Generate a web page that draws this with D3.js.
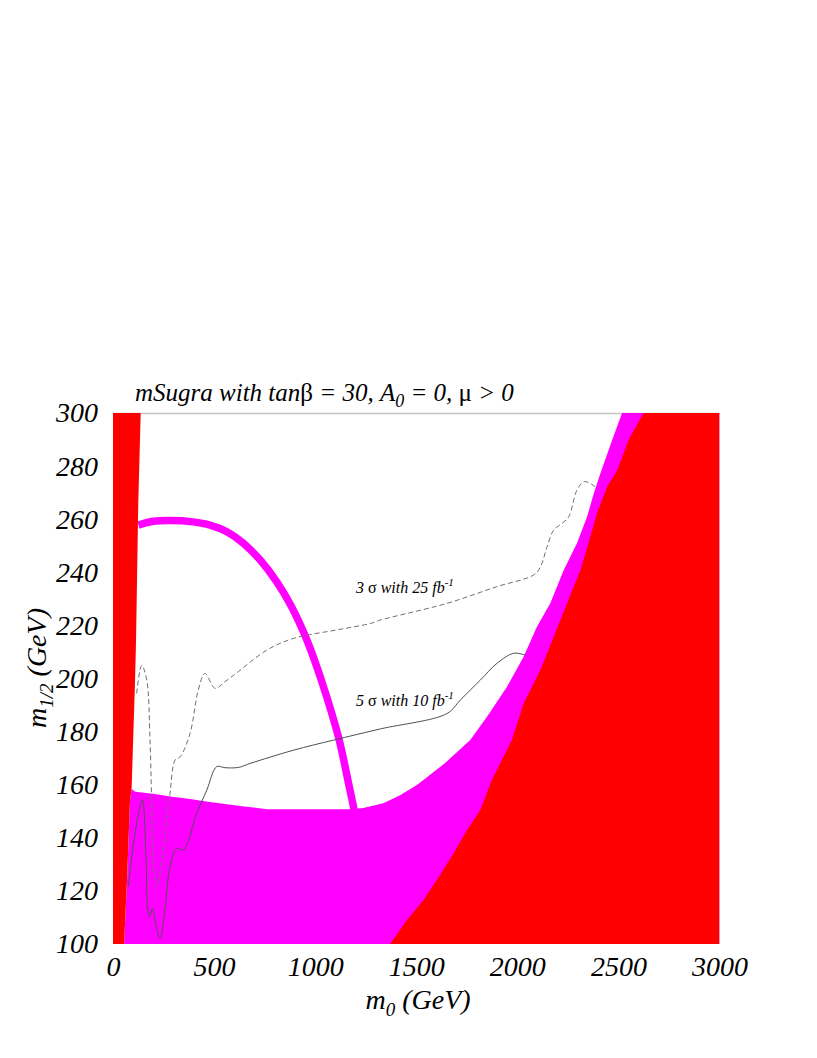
<!DOCTYPE html>
<html><head><meta charset="utf-8">
<script src="https://cdn.jsdelivr.net/npm/d3@7"></script>
<style>
body{margin:0;background:#fff}
text{font-family:"Liberation Serif","Times New Roman",serif;}
</style>
</head><body>
<svg id="c" width="817" height="1058"></svg>
<script>
// ---- data (m0 [GeV], m1/2 [GeV]) ----
const xTickValues = [0, 500, 1000, 1500, 2000, 2500, 3000];
const yTickValues = [100, 120, 140, 160, 180, 200, 220, 240, 260, 280, 300];

// left excluded (red) strip, right boundary, bottom to top
const leftRedEdge = [[55,100],[70,125],[84,154],[92,158.4],[109,199],[114,214.5],[125,266],[137,300]];

// top boundary of the magenta region (bottom plateau + right band), left to right
const magentaTop = [[92,158.4],[110,157.3],[208,156.5],[291,155.5],[381,154.6],[470,153.6],[554,152.7],
  [650,151.8],[761,150.8],[1173,150.8],[1238,151.2],[1337,153],[1420,156],[1505,160],[1640,168],
  [1767,176.8],[1850,185.6],[1949,196.9],[2031,208.2],[2097,219.5],[2163,228.3],[2229,240.8],
  [2295,250.9],[2345,260.9],[2378,269.7],[2411,277.3],[2470,290],[2518,300]];

// left boundary of the right red region, top to bottom
const redEdge = [[2624,300],[2550,289.8],[2495,278.5],[2444,272.2],[2394,262.2],[2361,253.4],[2312,240.8],
  [2246,228.3],[2180,215.7],[2114,203.2],[2031,190.6],[1973,176.8],[1874,161.8],[1817,150.5],
  [1751,142.9],[1685,134.2],[1602,124.1],[1536,116.6],[1454,109],[1371,100]];

// thin magenta arc
const arcBand = [[126,257.8],[200,259.2],[282,259.5],[396,259],[480,257.8],[563,255.3],[644,251],[728,244.6],
  [810,236.4],[880,227.5],[959,214.5],[1030,199.5],[1115,178],[1165,160.6],[1193,150.5]];

// 5 sigma with 10 fb^-1 (solid)
const sigma5 = [[76,121.6],[109,141.8],[145,154.2],[162,135.4],[172,112.8],[180,110.3],[196,113.4],
  [215,106],[233,102.1],[257,112.8],[282,129.1],[315,136],[348,135.4],[414,149.2],[464,158],[513,166.8],
  [554,166.4],[620,166.5],[678,168],[893,173],[1091,176.8],[1322,181],[1652,186.8],[1718,191.9],
  [1817,199.4],[1899,205.7],[1982,209.5],[2039,208.8]];

// 3 sigma with 25 fb^-1 (dashed)
const sigma3 = [[117,194.4],[142,205],[167,199.4],[183,176.8],[191,154.2],[200,129.1],[216,121.6],
  [249,135.4],[274,153],[282,156.7],[307,169.3],[332,170.5],[381,179.3],[422,195.7],[455,201.9],
  [505,196.3],[554,198.8],[620,202.6],[761,210.7],[893,215.1],[1107,218.3],[1272,220.7],[1322,222],
  [1652,228.3],[1899,234.6],[2081,239],[2114,242],[2147,249.6],[2180,255.9],[2221,258.4],[2254,260.9],
  [2295,271],[2328,274.1],[2361,273.5],[2394,271.6]];

// ---- drawing ----
const svg = d3.select("#c");
const x = d3.scaleLinear().domain([0, 3000]).range([113, 719.5]);
const y = d3.scaleLinear().domain([100, 300]).range([944, 413]);

svg.append("defs").append("clipPath").attr("id","plot")
  .append("rect").attr("x",x(0)).attr("y",y(300)).attr("width",x(3000)-x(0)).attr("height",y(100)-y(300));

// top frame line
svg.append("line").attr("x1",x(0)).attr("x2",x(3000)).attr("y1",y(300)+0.5).attr("y2",y(300)+0.5)
  .attr("stroke","#c4c4c4").attr("stroke-width",1.5);

const g = svg.append("g").attr("clip-path","url(#plot)");
const line = d3.line().x(d=>x(d[0])).y(d=>y(d[1]));

// magenta region
const magPoly = leftRedEdge.filter(d=>d[1]<158.4).concat(magentaTop, [[3000,300],[3000,100]]);
g.append("path").attr("d", line(magPoly)+"Z").attr("fill","#ff00ff");

// magenta arc
const arcLine = d3.line().x(d=>x(d[0])).y(d=>y(d[1])).curve(d3.curveCatmullRom.alpha(0.5));
g.append("path").attr("d", arcLine(arcBand))
  .attr("fill","none").attr("stroke","#ff00ff").attr("stroke-width",7.5);

// red regions
const leftPoly = [[0,100]].concat(leftRedEdge, [[0,300]]);
g.append("path").attr("d", line(leftPoly)+"Z").attr("fill","#ff0000");
const rightPoly = redEdge.concat([[3000,100],[3000,300]]);
g.append("path").attr("d", line(rightPoly)+"Z").attr("fill","#ff0000");

// contour lines
const smooth = d3.line().x(d=>x(d[0])).y(d=>y(d[1])).curve(d3.curveCatmullRom.alpha(0.5));
g.append("path").attr("d", smooth(sigma5)).attr("fill","none").attr("stroke","#505050").attr("stroke-width",1);
g.append("path").attr("d", smooth(sigma3)).attr("fill","none").attr("stroke","#707070")
  .attr("stroke-width",1).attr("stroke-dasharray","5,3");

// axes
const xAxis = svg.append("g").attr("transform",`translate(0,${y(100)})`)
  .call(d3.axisBottom(x).tickValues(xTickValues).tickSize(0).tickPadding(12).tickFormat(d3.format("d")));
const yAxis = svg.append("g").attr("transform",`translate(${x(0)},0)`)
  .call(d3.axisLeft(y).tickValues(yTickValues).tickSize(0).tickPadding(15).tickFormat(d3.format("d")));
[xAxis,yAxis].forEach(a=>{
  a.select(".domain").remove();
  a.selectAll("text").attr("font-family",'"Liberation Serif",serif').attr("font-style","italic")
    .attr("font-size",28).attr("fill","#000");
});

// title
const title = svg.append("text").attr("x",135).attr("y",401).attr("font-size",25).attr("font-style","italic");
title.append("tspan").text("mSugra with tan");
title.append("tspan").attr("font-style","normal").text("β");
title.append("tspan").text(" = 30, A");
title.append("tspan").attr("font-size",18).attr("dy",6).text("0");
title.append("tspan").attr("dy",-6).text(" = 0, ");
title.append("tspan").attr("font-style","normal").text("μ");
title.append("tspan").text(" > 0");

// curve labels
function sigLabel(xp, yp, n, lum){
  const t = svg.append("text").attr("x",xp).attr("y",yp).attr("font-size",16).attr("font-style","italic");
  t.append("tspan").text(n+" ");
  t.append("tspan").attr("font-style","normal").text("σ");
  t.append("tspan").text(" with "+lum+" fb");
  t.append("tspan").attr("font-size",11).attr("dy",-7).text("-1");
}
sigLabel(356, 593, 3, 25);
sigLabel(356, 706, 5, 10);

// axis titles
const xt = svg.append("text").attr("x",418).attr("y",1009).attr("text-anchor","middle")
  .attr("font-size",28).attr("font-style","italic");
xt.append("tspan").text("m");
xt.append("tspan").attr("font-size",19).attr("dy",7).text("0");
xt.append("tspan").attr("dy",-7).text(" (GeV)");

const yt = svg.append("text").attr("transform","translate(46,668) rotate(-90)").attr("text-anchor","middle")
  .attr("font-size",28).attr("font-style","italic");
yt.append("tspan").text("m");
yt.append("tspan").attr("font-size",19).attr("dy",7).text("1/2");
yt.append("tspan").attr("dy",-7).text(" (GeV)");
</script>
</body></html>
